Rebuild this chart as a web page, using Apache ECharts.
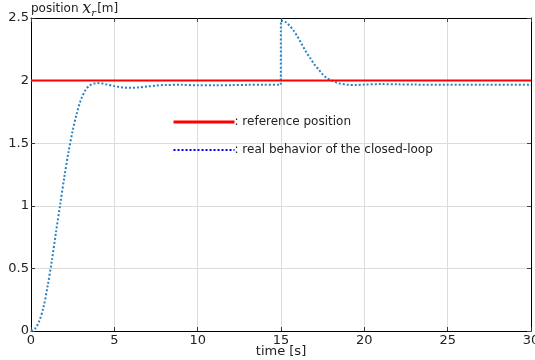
<!DOCTYPE html>
<html>
<head>
<meta charset="utf-8">
<style>
  html, body { margin: 0; padding: 0; background: #fff; }
  #chart { width: 535px; height: 360px; }
</style>
<script src="https://cdn.jsdelivr.net/npm/echarts@6/dist/echarts.min.js"></script>
</head>
<body>
<div id="chart"></div>
<script>
// closed-loop step response
const timeS = [
  0, 0.25, 0.5, 0.75, 1.0, 1.25, 1.5, 1.75, 2.0, 2.25, 2.5, 2.75, 3.0, 3.25, 3.5, 3.75,
  4.0, 4.25, 4.5, 5.0, 5.5, 6.0, 6.5, 7.0, 7.5, 8.0, 9.0, 10, 11, 12, 13, 14, 14.98,
  15.0, 15.25, 15.5, 15.75, 16.0, 16.25, 16.5, 16.75, 17.0, 17.25, 17.5, 17.75, 18.0,
  18.25, 18.5, 19.0, 19.5, 20, 21, 22, 23, 25, 27, 30,
];
const realPos = [
  0, 0.02, 0.08, 0.19, 0.36, 0.56, 0.79, 1.01, 1.23, 1.43, 1.60, 1.74, 1.85, 1.92, 1.96, 1.975,
  1.98, 1.978, 1.97, 1.956, 1.945, 1.942, 1.946, 1.953, 1.96, 1.965, 1.966, 1.962, 1.962, 1.964, 1.966, 1.967, 1.967,
  2.48, 2.47, 2.44, 2.40, 2.35, 2.29, 2.23, 2.18, 2.13, 2.09, 2.05, 2.02, 2.003,
  1.99, 1.978, 1.967, 1.965, 1.968, 1.972, 1.970, 1.968, 1.967, 1.967, 1.967,
];
const refTime = [0, 30];
const refPos = [2, 2];
const xTicks = [0, 30, 5];      // min, max, step
const yTicks = [0, 2.5, 0.5];

const FONT = '"DejaVu Sans", sans-serif';
const MATH_FONT = '"DejaVu Serif", serif';
const GRID_COLOR = '#dcdcdc';

const zip = (xs, ys) => xs.map((x, i) => [x, ys[i]]);

const chart = echarts.init(document.getElementById('chart'));

// top / right axes only close the frame, with inward ticks
const frameAxis = {
  axisLine: { show: true, onZero: false, lineStyle: { color: '#000', width: 1 } },
  axisTick: { show: true, inside: true, length: 4, lineStyle: { color: '#444' } },
  axisLabel: { show: false },
  splitLine: { show: false },
};

chart.setOption({
  animation: false,
  backgroundColor: '#fff',
  textStyle: { fontFamily: FONT },
  grid: { left: 31, right: 4, top: 18, bottom: 29, outerBoundsMode: 'none', containLabel: false },
  legend: {
    orient: 'vertical',
    left: 167,
    top: 111,
    itemWidth: 61,
    itemHeight: 14,
    itemGap: 16,
    itemStyle: { opacity: 0 },
    textStyle: { fontFamily: FONT, fontSize: 12, color: '#222', padding: [0, 0, 0, -5] },
    formatter: (name) => ': ' + name,
    data: [
      { name: 'reference position', lineStyle: { width: 3 } },
      { name: 'real behavior of the closed-loop', lineStyle: { color: '#0000ff', type: [2, 2], width: 2 } },
    ],
  },
  xAxis: [
    {
      type: 'value',
      min: xTicks[0], max: xTicks[1], interval: xTicks[2],
      name: 'time [s]',
      nameLocation: 'middle',
      nameGap: 14,
      nameMoveOverlap: false,
      nameTextStyle: { fontFamily: FONT, fontSize: 13, color: '#222' },
      axisLine: { show: true, onZero: false, lineStyle: { color: '#000', width: 1 } },
      axisTick: { show: true, inside: true, length: 4, lineStyle: { color: '#333' } },
      axisLabel: { margin: 3, fontFamily: FONT, fontSize: 13, color: '#222' },
      splitLine: { show: true, lineStyle: { color: GRID_COLOR, width: 1 } },
    },
    Object.assign({ type: 'value', position: 'top', min: xTicks[0], max: xTicks[1], interval: xTicks[2] }, frameAxis),
  ],
  yAxis: [
    {
      type: 'value',
      min: yTicks[0], max: yTicks[1], interval: yTicks[2],
      name: '{a|position }{x|x}{r|r}{a|[m]}',
      nameLocation: 'end',
      nameGap: 9,
      nameMoveOverlap: false,
      nameTextStyle: {
        align: 'left',
        verticalAlign: 'middle',
        rich: {
          a: { fontFamily: FONT, fontSize: 12, color: '#222', lineHeight: 18, verticalAlign: 'middle' },
          x: { fontFamily: MATH_FONT, fontStyle: 'italic', fontSize: 16, color: '#222', lineHeight: 18, verticalAlign: 'middle' },
          r: { fontFamily: MATH_FONT, fontStyle: 'italic', fontSize: 10, color: '#222', lineHeight: 11, verticalAlign: 'bottom', padding: [0, 1, 0, 0] },
        },
      },
      axisLine: { show: true, onZero: false, lineStyle: { color: '#000', width: 1 } },
      axisTick: { show: true, inside: true, length: 4, lineStyle: { color: '#333' } },
      axisLabel: { margin: 2, fontFamily: FONT, fontSize: 13, color: '#222' },
      splitLine: { show: true, lineStyle: { color: GRID_COLOR, width: 1 } },
    },
    Object.assign({ type: 'value', position: 'right', min: yTicks[0], max: yTicks[1], interval: yTicks[2] }, frameAxis),
  ],
  series: [
    {
      name: 'reference position',
      type: 'line',
      data: zip(refTime, refPos),
      symbol: 'none',
      lineStyle: { color: '#ff0000', width: 2 },
      itemStyle: { color: '#ff0000' },
      z: 3,
    },
    {
      name: 'real behavior of the closed-loop',
      type: 'line',
      data: zip(timeS, realPos),
      symbol: 'none',
      smooth: 0.3,
      lineStyle: { color: '#2a82c4', width: 2, type: [2, 2] },
      itemStyle: { color: '#2a82c4' },
      z: 2,
    },
  ],
});
</script>
</body>
</html>
